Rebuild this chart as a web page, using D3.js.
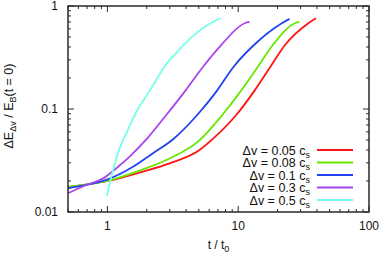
<!DOCTYPE html>
<html>
<head>
<script src="https://cdnjs.cloudflare.com/ajax/libs/d3/7.8.5/d3.min.js"></script>
<style>
  body { margin: 0; background: #fff; }
  text { font-family: "Liberation Sans", Arial, sans-serif; fill: #111; }
</style>
</head>
<body>
<svg id="chart" width="381" height="257"></svg>
<script>
// series: [t/t0, dE/EB]
var labels = ['0.05', '0.08', '0.1', '0.3', '0.5'];
var colors = ['#ff1414', '#66e800', '#2244ee', '#aa44ee', '#77ffea'];

var s005 = [[0.5,0.0175],[0.52,0.0176],[1.10,0.0205],[1.87,0.0247],[2.99,0.0297],[5.07,0.040],[6.4,0.0512],[9.66,0.0874],[13.3,0.150],[17.6,0.256],[22.8,0.418],[34.6,0.684],[39.3,0.76]];
var s008 = [[0.5,0.0175],[1.10,0.0207],[1.87,0.0259],[2.99,0.0331],[5.0,0.0490],[7.55,0.0874],[10.5,0.150],[14.1,0.256],[18.4,0.418],[27.4,0.684],[29.3,0.70]];
var s01 = [[0.5,0.0170],[0.69,0.0183],[0.98,0.0205],[1.57,0.0275],[2.23,0.0372],[3.2,0.0512],[4.86,0.0874],[6.87,0.150],[9.2,0.256],[13.2,0.418],[21.7,0.684],[24.7,0.75]];
var s03 = [[0.5,0.0152],[0.69,0.0183],[0.93,0.0212],[1.17,0.0266],[1.48,0.0345],[2.0,0.0512],[2.82,0.0874],[3.94,0.150],[5.37,0.256],[7.41,0.418],[11.3,0.684],[12.2,0.70]];
var s05 = [[0.99,0.0143],[1.1,0.025],[1.24,0.0415],[1.43,0.062],[1.62,0.0874],[2.10,0.150],[2.5,0.215],[2.71,0.256],[3.3,0.34],[3.82,0.418],[6.2,0.684],[7.4,0.76]];
var series = [s005, s008, s01, s03, s05];

var xTicks = [1, 10, 100];
var yTicks = [0.01, 0.1, 1];

var margin = {left: 68, right: 12, top: 6, bottom: 45};
var width = 381 - margin.left - margin.right,
    height = 257 - margin.top - margin.bottom;

var svg = d3.select('#chart');
var g = svg.append('g').attr('transform', 'translate(' + margin.left + ',' + margin.top + ')');

var x = d3.scaleLog().domain([0.5, 100]).range([0, width]);
var y = d3.scaleLog().domain([0.01, 1]).range([height, 0]);

// minor ticks 1..9 per decade
function minors(dom) {
  var out = [];
  for (var e = -3; e <= 2; e++) {
    for (var m = 1; m <= 9; m++) {
      var v = m * Math.pow(10, e);
      if (v >= dom[0] * 0.999 && v <= dom[1] * 1.001) out.push(v);
    }
  }
  return out;
}
var xMin = minors(x.domain()), yMin = minors(y.domain());
var frame = '#2a2a2a';

function isMajor(v) { return Math.abs(Math.log10(v) - Math.round(Math.log10(v))) < 1e-6; }

xMin.forEach(function(v) {
  var len = isMajor(v) ? 6 : 3;
  g.append('line').attr('x1', x(v)).attr('x2', x(v)).attr('y1', height).attr('y2', height - len).attr('stroke', frame);
  g.append('line').attr('x1', x(v)).attr('x2', x(v)).attr('y1', 0).attr('y2', len).attr('stroke', frame);
});
yMin.forEach(function(v) {
  var len = isMajor(v) ? 6 : 3;
  g.append('line').attr('y1', y(v)).attr('y2', y(v)).attr('x1', 0).attr('x2', len).attr('stroke', frame);
  g.append('line').attr('y1', y(v)).attr('y2', y(v)).attr('x1', width).attr('x2', width - len).attr('stroke', frame);
});

g.selectAll('.xl').data(xTicks).enter().append('text')
  .attr('x', function(d) { return x(d); }).attr('y', height + 18)
  .attr('text-anchor', 'middle').attr('font-size', 12).text(function(d) { return d; });
g.selectAll('.yl').data(yTicks).enter().append('text')
  .attr('x', -10).attr('y', function(d) { return y(d) + 4; })
  .attr('text-anchor', 'end').attr('font-size', 12).text(function(d) { return d; });

// curves
var line = d3.line().x(function(d) { return x(d[0]); }).y(function(d) { return y(d[1]); }).curve(d3.curveMonotoneX);
series.forEach(function(s, i) {
  g.append('path').datum(s).attr('d', line).attr('fill', 'none')
    .attr('stroke', colors[i]).attr('stroke-width', 1.8);
});

g.append('rect').attr('width', width).attr('height', height)
  .attr('fill', 'none').attr('stroke', frame).attr('stroke-width', 1.5);

// legend
var lg = g.append('g');
labels.forEach(function(l, i) {
  var yy = 144 + i * 12.5;
  var t = lg.append('text').attr('x', 242).attr('y', yy + 4.5).attr('text-anchor', 'end').attr('font-size', 12.5);
  t.append('tspan').text('\u0394v = ' + l + ' c');
  t.append('tspan').attr('font-size', 9).attr('dy', 3).text('s');
  lg.append('line').attr('x1', 249).attr('x2', 285).attr('y1', yy).attr('y2', yy)
    .attr('stroke', colors[i]).attr('stroke-width', 1.8);
});

// axis titles
var xt = svg.append('text').attr('x', margin.left + width / 2).attr('y', 249).attr('text-anchor', 'middle').attr('font-size', 12);
xt.append('tspan').text('t / t');
xt.append('tspan').attr('font-size', 9).attr('dy', 3).text('0');

var yt = svg.append('text').attr('transform', 'translate(13,' + (margin.top + 100) + ') rotate(-90)')
  .attr('text-anchor', 'middle').attr('font-size', 12.5);
yt.append('tspan').text('\u0394E');
yt.append('tspan').attr('font-size', 9).attr('dy', 3).text('\u0394v');
yt.append('tspan').attr('dy', -3).text(' / E');
yt.append('tspan').attr('font-size', 9).attr('dy', 3).text('B');
yt.append('tspan').attr('dy', -3).text('(t = 0)');
</script>
</body>
</html>
